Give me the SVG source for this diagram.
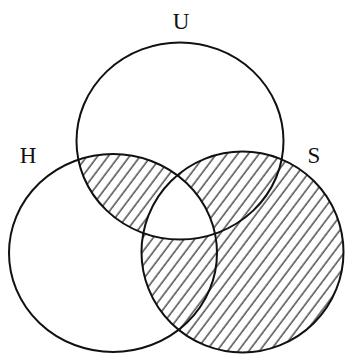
<svg xmlns="http://www.w3.org/2000/svg" width="346" height="354" viewBox="0 0 346 354">
  <style>
    .set { fill: none; stroke: #111; stroke-width: 2; }
    .lbl { font-family: "Liberation Serif", "Times New Roman", serif; font-size: 23px; fill: #111; text-anchor: middle; }
  </style>
  <defs>
    <pattern id="hatch" patternUnits="userSpaceOnUse" width="8.5" height="20" patternTransform="rotate(37)">
      <line x1="2" y1="0" x2="2" y2="20" stroke="#222" stroke-width="1.2"/>
    </pattern>
    <clipPath id="clipU"><ellipse cx="180" cy="141" rx="103.5" ry="98.5"/></clipPath>
    <clipPath id="clipH"><ellipse cx="113" cy="253" rx="104" ry="99"/></clipPath>
    <mask id="xorMask" maskUnits="userSpaceOnUse" x="0" y="0" width="346" height="354">
      <rect x="0" y="0" width="346" height="354" fill="#000"/>
      <ellipse cx="242.5" cy="252" rx="101" ry="100.5" fill="#fff"/>
      <g clip-path="url(#clipU)">
        <ellipse cx="113" cy="253" rx="104" ry="99" fill="#fff"/>
        <g clip-path="url(#clipH)">
          <ellipse cx="242.5" cy="252" rx="101" ry="100.5" fill="#000"/>
        </g>
      </g>
    </mask>
  </defs>
  <rect x="0" y="0" width="346" height="354" fill="#fff"/>
  <g id="hatching">
    <rect x="0" y="0" width="346" height="354" fill="url(#hatch)" mask="url(#xorMask)"/>
  </g>
  <g id="U">
    <ellipse class="set" cx="180" cy="141" rx="103.5" ry="98.5"/>
    <text class="lbl" x="181" y="29">U</text>
  </g>
  <g id="H">
    <ellipse class="set" cx="113" cy="253" rx="104" ry="99"/>
    <text class="lbl" x="28" y="163">H</text>
  </g>
  <g id="S">
    <ellipse class="set" cx="242.5" cy="252" rx="101" ry="100.5"/>
    <text class="lbl" x="314" y="163">S</text>
  </g>
  <g id="connectors"/>
</svg>
